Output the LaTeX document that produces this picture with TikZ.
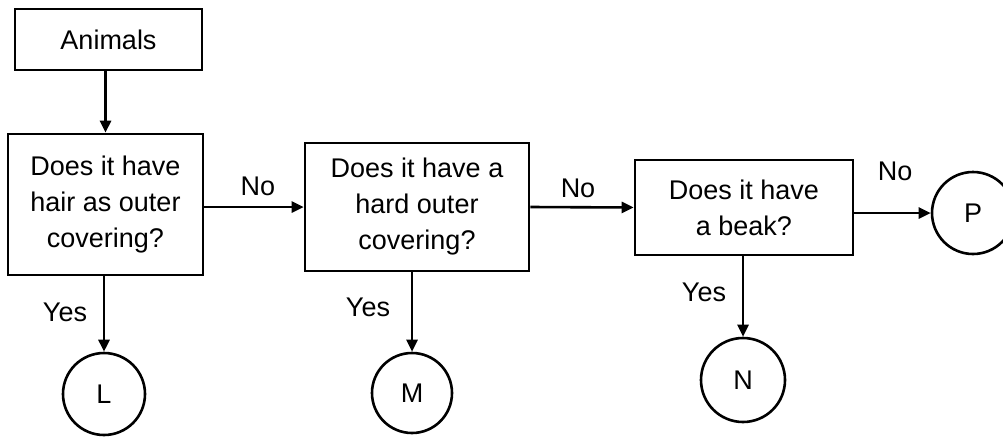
\documentclass[tikz,border=0pt]{standalone}
\usepackage{fontspec}
\setmainfont{Liberation Sans}
\usetikzlibrary{arrows.meta}
\begin{document}
\begin{tikzpicture}[x=1pt,y=-1pt,
  every node/.style={font=\fontsize{27}{36}\selectfont},
  box/.style={draw, line width=2.6pt, inner sep=0pt, align=center},
  leaf/.style={draw, circle, line width=2.6pt, inner sep=0pt, font=\fontsize{27}{30}\selectfont},
  conn/.style={line width=2.6pt, -{Triangle[length=12pt,width=11pt]}},
  lbl/.style={inner sep=0pt}]
\useasboundingbox (0,0) rectangle (1003,437);
\node[box, minimum width=187pt, minimum height=61pt] (an) at (108.5,39.5) {Animals};
\node[box, minimum width=195pt, minimum height=141pt] (b1) at (105.5,204.5) {Does it have\\hair as outer\\covering?};
\node[box, minimum width=224pt, minimum height=128pt] (b2) at (417,207) {Does it have a\\hard outer\\covering?};
\node[box, minimum width=218pt, minimum height=95pt] (b3) at (744,207.5) {Does it have\\a beak?};
\node[leaf, minimum size=82pt] (l) at (104,394) {L};
\node[leaf, minimum size=80pt] (m) at (412,393) {M};
\node[leaf, minimum size=84pt] (n) at (743,380) {N};
\node[leaf, minimum size=82pt] (p) at (973,213) {P};
\draw[conn] (an.south -| b1.north) -- (b1.north);
\draw[conn] (b1.east |- b2.west) -- (b2.west);
\draw[conn] (b2.east) -- (b3.west);
\draw[conn] (b3.east |- p.west) -- (p.west);
\draw[conn] (b1.south -| l.north) -- (l.north);
\draw[conn] (b2.south -| m.north) -- (m.north);
\draw[conn] (b3.south -| n.north) -- (n.north);
\node[lbl] (no1) at (258,186) {No};
\node[lbl] (no2) at (578,188) {No};
\node[lbl] (no3) at (895,171) {No};
\node[lbl] (y1) at (65,312) {Yes};
\node[lbl] (y2) at (368,307) {Yes};
\node[lbl] (y3) at (704,292) {Yes};
\end{tikzpicture}
\end{document}
